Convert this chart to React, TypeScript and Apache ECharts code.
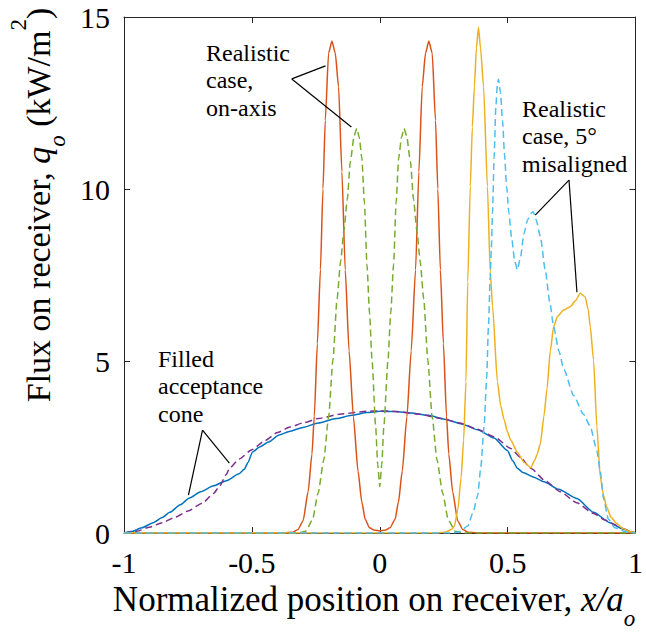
import React, { useEffect, useRef } from "react";
import * as echarts from "echarts";

const FONT = "Liberation Serif, Times New Roman, serif";

const xRange = [-1, 1];
const yRange = [0, 15];
const xStep = 0.5;
const yStep = 5;

// Filled acceptance cone, realistic (blue solid)
const coneReal: number[][] = [
  [-1, 0], [-0.97, 0.04], [-0.93, 0.15], [-0.886, 0.3], [-0.85, 0.45], [-0.821, 0.6],
  [-0.78, 0.82], [-0.744, 1.02], [-0.7, 1.2], [-0.65, 1.37], [-0.6, 1.52], [-0.55, 1.72],
  [-0.53, 1.85], [-0.515, 2.05], [-0.498, 2.35], [-0.47, 2.5], [-0.433, 2.65], [-0.394, 2.85],
  [-0.35, 2.96], [-0.3, 3.07], [-0.24, 3.2], [-0.17, 3.33], [-0.11, 3.42], [-0.05, 3.5],
  [0, 3.54], [0.06, 3.53], [0.124, 3.49], [0.19, 3.42], [0.253, 3.31], [0.32, 3.17],
  [0.383, 3.0], [0.447, 2.76], [0.499, 2.4], [0.52, 2.1], [0.538, 1.88], [0.56, 1.76],
  [0.6, 1.63], [0.642, 1.49], [0.7, 1.27], [0.771, 1.0], [0.836, 0.6], [0.9, 0.3],
  [0.95, 0.12], [0.99, 0.01], [1, 0],
];

// Filled acceptance cone, ideal (purple dashed)
const coneIdeal: number[][] = [
  [-1, 0], [-0.95, 0.05], [-0.9, 0.17], [-0.85, 0.3], [-0.8, 0.46], [-0.75, 0.64],
  [-0.693, 0.87], [-0.65, 1.15], [-0.627, 1.35], [-0.6, 1.7], [-0.588, 1.88], [-0.55, 2.15],
  [-0.5, 2.42], [-0.45, 2.68], [-0.4, 2.92], [-0.35, 3.08], [-0.3, 3.2], [-0.24, 3.33],
  [-0.15, 3.46], [-0.05, 3.54], [0, 3.55], [0.05, 3.54], [0.15, 3.46], [0.24, 3.33],
  [0.318, 3.19], [0.38, 3.02], [0.447, 2.8], [0.512, 2.46], [0.55, 2.2], [0.59, 1.88],
  [0.65, 1.5], [0.706, 1.2], [0.77, 0.88], [0.836, 0.57], [0.88, 0.38], [0.926, 0.22],
  [0.96, 0.1], [0.99, 0.03], [1, 0],
];

// Realistic case, on-axis (red solid)
const onAxisA: number[][] = [
  [-1, 0], [-0.4, 0], [-0.34, 0.02], [-0.32, 0.1], [-0.3, 0.35], [-0.28, 1.2], [-0.265, 2.3],
  [-0.256, 3.4], [-0.244, 5.5], [-0.232, 7.65], [-0.222, 10], [-0.213, 12], [-0.2, 13.95],
  [-0.187, 14.3], [-0.174, 13.95], [-0.161, 12.97], [-0.148, 10.5], [-0.135, 7.65],
  [-0.12, 5.3], [-0.103, 3.37], [-0.085, 1.8], [-0.07, 0.9], [-0.057, 0.4], [-0.04, 0.15],
  [-0.02, 0.08], [0, 0.06], [0.02, 0.08], [0.04, 0.15], [0.06, 0.4], [0.073, 0.9],
  [0.088, 1.8], [0.106, 3.37], [0.123, 5.3], [0.14, 7.65], [0.153, 10.5], [0.166, 12.97],
  [0.179, 13.95], [0.192, 14.3], [0.205, 13.95], [0.218, 12], [0.227, 10], [0.237, 7.65],
  [0.249, 5.5], [0.261, 3.4], [0.27, 2.3], [0.285, 1.2], [0.305, 0.35], [0.325, 0.1],
  [0.345, 0.02], [0.4, 0], [1, 0],
];

// Realistic case, on-axis (green dashed)
const onAxisB: number[][] = [
  [-1, 0], [-0.32, 0], [-0.29, 0.05], [-0.263, 0.38], [-0.241, 1.16], [-0.219, 2.12],
  [-0.2, 3.37], [-0.183, 5.03], [-0.167, 6.8], [-0.153, 7.9], [-0.14, 8.8], [-0.127, 9.7],
  [-0.115, 10.8], [-0.1, 11.55], [-0.09, 11.76], [-0.08, 11.5], [-0.07, 10.9], [-0.06, 9.6],
  [-0.05, 7.8], [-0.04, 6.4], [-0.03, 5.0], [-0.016, 3.1], [-0.008, 2.0], [0, 1.35],
  [0.008, 2.0], [0.016, 3.1], [0.032, 5.0], [0.043, 6.4], [0.054, 7.8], [0.064, 9.6],
  [0.074, 10.9], [0.085, 11.5], [0.095, 11.76], [0.105, 11.55], [0.12, 10.8], [0.132, 9.7],
  [0.145, 8.8], [0.158, 7.9], [0.172, 6.8], [0.188, 5.03], [0.205, 3.37], [0.224, 2.12],
  [0.246, 1.16], [0.268, 0.38], [0.295, 0.05], [0.325, 0], [1, 0],
];

// Realistic case, 5 deg misaligned (yellow solid)
const misA: number[][] = [
  [-1, 0], [0.22, 0], [0.26, 0.03], [0.28, 0.1], [0.292, 0.2], [0.305, 0.67], [0.318, 1.6],
  [0.328, 2.7], [0.337, 4.4], [0.344, 7.3], [0.354, 10.07], [0.362, 11.8], [0.37, 12.97],
  [0.378, 14.1], [0.386, 14.7], [0.394, 14.1], [0.406, 12.97], [0.421, 10.07], [0.432, 7.6],
  [0.441, 6.6], [0.46, 4.4], [0.473, 3.7], [0.486, 3.3], [0.499, 2.95], [0.512, 2.7],
  [0.538, 2.35], [0.565, 2.05], [0.59, 1.9], [0.605, 2.1], [0.616, 2.3], [0.628, 2.6],
  [0.642, 3.4], [0.654, 4.2], [0.667, 5.3], [0.68, 6.0], [0.695, 6.3], [0.719, 6.48],
  [0.745, 6.58], [0.765, 6.75], [0.784, 6.97], [0.803, 6.87], [0.815, 6.5], [0.823, 6.0],
  [0.836, 5.03], [0.849, 3.09], [0.862, 1.64], [0.875, 1.1], [0.887, 0.76], [0.905, 0.45],
  [0.926, 0.28], [0.95, 0.13], [0.978, 0.04], [1, 0],
];

// Realistic case, 5 deg misaligned (light blue dashed)
const misB: number[][] = [
  [-1, 0], [0.28, 0], [0.31, 0.03], [0.344, 0.2], [0.365, 0.6], [0.383, 1.1], [0.395, 1.9],
  [0.408, 3.1], [0.418, 4.5], [0.425, 6.0], [0.432, 7.45], [0.436, 8.2], [0.441, 9.3],
  [0.447, 10.9], [0.454, 12.4], [0.46, 13.05], [0.464, 13.19], [0.472, 12.8], [0.48, 12.0],
  [0.488, 11.0], [0.496, 10.07], [0.505, 9.3], [0.515, 8.61], [0.528, 7.9], [0.538, 7.65],
  [0.55, 8.0], [0.564, 8.71], [0.578, 9.1], [0.59, 9.29], [0.6, 9.34], [0.612, 9.1],
  [0.628, 8.61], [0.648, 7.6], [0.665, 6.7], [0.68, 6.0], [0.7, 5.3], [0.72, 4.75],
  [0.758, 4.0], [0.797, 3.45], [0.823, 3.1], [0.849, 2.4], [0.862, 1.8], [0.875, 1.0],
  [0.894, 0.4], [0.92, 0.15], [0.965, 0.03], [1, 0],
];

// Annotation leader lines in data coordinates
const leaders: number[][][] = [
  [[-0.344, 13.2], [-0.212, 13.58]],
  [[-0.344, 13.2], [-0.111, 11.8]],
  [[0.74, 10.26], [0.608, 9.24]],
  [[0.74, 10.26], [0.771, 7.0]],
  [[-0.693, 2.99], [-0.748, 1.1]],
  [[-0.693, 2.99], [-0.588, 2.03]],
];

const notes = [
  { text: "Realistic\ncase,\non-axis", x: 206, y: 39 },
  { text: "Realistic\ncase, 5°\nmisaligned", x: 522, y: 95 },
  { text: "Filled\nacceptance\ncone", x: 158, y: 345 },
];

const AXIS_COLOR = "#262626";

function lineSeries(data: number[][], color: string, dashed: boolean, extra: any = {}) {
  return {
    type: "line",
    data,
    symbol: "none",
    showSymbol: false,
    smooth: 0.2,
    smoothMonotone: "x",
    lineStyle: { color, width: 1.5, type: dashed ? [7, 4] : "solid" },
    emphasis: { disabled: true },
    ...extra,
  };
}

function richSet(size: number, small: number, lh: number) {
  return {
    n: { fontFamily: FONT, fontSize: size, lineHeight: lh, fill: "#000", color: "#000" },
    i: { fontFamily: FONT, fontSize: size, lineHeight: lh, fontStyle: "italic", fill: "#000", color: "#000" },
    s: { fontFamily: FONT, fontSize: small, lineHeight: 24, fontStyle: "italic", verticalAlign: "bottom", fill: "#000", color: "#000" },
    p: { fontFamily: FONT, fontSize: small, lineHeight: 24, verticalAlign: "top", fill: "#000", color: "#000" },
  };
}

export default function App() {
  const ref = useRef<HTMLDivElement>(null);
  useEffect(() => {
    if (!ref.current) return;
    const chart = echarts.init(ref.current, undefined, { renderer: "svg" });
    const axisCommon = {
      type: "value",
      axisLine: { show: true, onZero: false, lineStyle: { color: AXIS_COLOR, width: 1 } },
      axisTick: { show: true, inside: true, length: 6, lineStyle: { color: AXIS_COLOR, width: 1 } },
      splitLine: { show: false },
    };
    const option: any = {
      animation: false,
      backgroundColor: "#fff",
      grid: { left: 124, right: 7, top: 17, bottom: 102, containLabel: false },
      xAxis: [
        {
          ...axisCommon,
          position: "bottom",
          min: xRange[0], max: xRange[1], interval: xStep,
          axisLabel: { margin: 14, fontFamily: FONT, fontSize: 30, color: "#000" },
        },
        {
          ...axisCommon,
          position: "top",
          min: xRange[0], max: xRange[1], interval: xStep,
          axisLabel: { show: false },
        },
      ],
      yAxis: [
        {
          ...axisCommon,
          position: "left",
          min: yRange[0], max: yRange[1], interval: yStep,
          axisLabel: { margin: 14, fontFamily: FONT, fontSize: 30, color: "#000" },
        },
        {
          ...axisCommon,
          position: "right",
          min: yRange[0], max: yRange[1], interval: yStep,
          axisLabel: { show: false },
        },
      ],
      series: [
        lineSeries(coneReal, "#0072BD", false, {
          markLine: {
            silent: true,
            symbol: ["none", "none"],
            label: { show: false },
            lineStyle: { color: "#000", width: 1.2, type: "solid" },
            emphasis: { disabled: true },
            data: leaders.map((seg) => [{ coord: seg[0] }, { coord: seg[1] }]),
          },
        }),
        lineSeries(coneIdeal, "#7E2F8E", true),
        lineSeries(onAxisA, "#D95319", false),
        lineSeries(onAxisB, "#77AC30", true),
        lineSeries(misA, "#EDB120", false),
        lineSeries(misB, "#4DBEEE", true),
      ],
      graphic: [
        ...notes.map((n) => ({
          type: "text",
          x: n.x,
          y: n.y,
          silent: true,
          style: {
            text: n.text,
            fill: "#000",
            font: `24px ${FONT}`,
            lineHeight: 27.5,
            align: "left",
            verticalAlign: "top",
            textAlign: "left",
            textVerticalAlign: "top",
          },
        })),
        {
          type: "text",
          x: 374,
          y: 599,
          silent: true,
          style: {
            text: "{n|Normalized position on receiver, }{i|x/a}{s|o}",
            rich: richSet(35, 23, 62),
            fill: "#000",
            font: `35px ${FONT}`,
            align: "center",
            verticalAlign: "middle",
            textAlign: "center",
            textVerticalAlign: "middle",
          },
        },
        {
          type: "text",
          x: 38,
          y: 205,
          rotation: Math.PI / 2,
          silent: true,
          style: {
            text: "{n|Flux on receiver, }{i|q}{s|o}{n| (kW/m}{p|2}{n|)}",
            rich: richSet(34, 23, 62),
            fill: "#000",
            font: `34px ${FONT}`,
            align: "center",
            verticalAlign: "middle",
            textAlign: "center",
            textVerticalAlign: "middle",
          },
        },
      ],
    };
    chart.setOption(option);
    return () => chart.dispose();
  }, []);
  return (
    <div
      ref={ref}
      style={{ position: "fixed", left: 0, top: 0, width: 646, height: 635, background: "#fff" }}
    />
  );
}
